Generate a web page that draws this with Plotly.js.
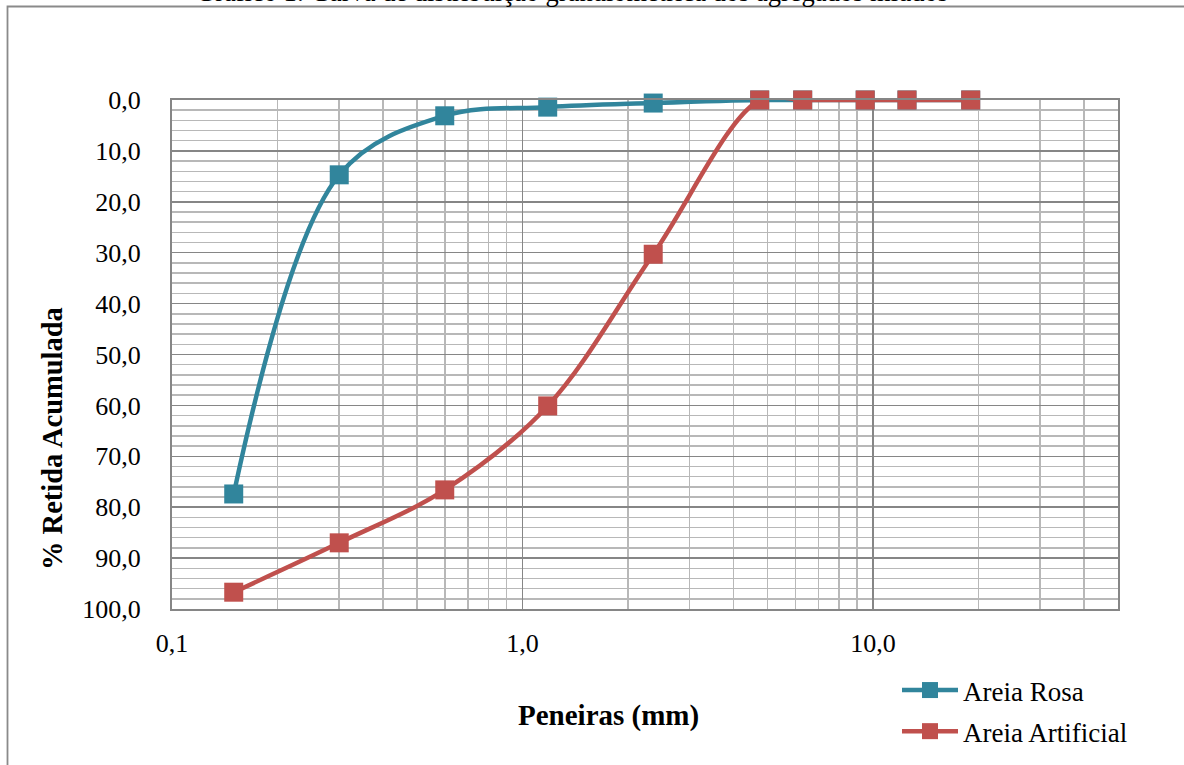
<!DOCTYPE html>
<html>
<head>
<meta charset="utf-8">
<script src="https://cdn.plot.ly/plotly-3.0.1.min.js"></script>
<style>html,body{margin:0;padding:0;background:#fff;}#chart{width:1184px;height:765px;}</style>
</head>
<body>
<div id="chart"></div>
<script>
var sieves = [0.15, 0.3, 0.6, 1.18, 2.36, 4.75, 6.3, 9.5, 12.5, 19];
var areiaRosa = [77.4, 14.7, 3.1, 1.4, 0.6, 0.0, 0.0, 0.0, 0.0, 0.0];
var areiaArtificial = [96.7, 87.0, 76.6, 60.1, 30.3, 0.0, 0.0, 0.0, 0.0, 0.0];
var seriesNames = ["Areia Rosa", "Areia Artificial"];
var xTickVals = [0.1, 1, 10];
var xTickText = ["0,1", "1,0", "10,0"];
var xMinorVals = [0.2,0.3,0.4,0.5,0.6,0.7,0.8,0.9,2,3,4,5,6,7,8,9,20,30,40,50];
var yTickVals = [0,10,20,30,40,50,60,70,80,90,100];
var yTickText = ["0,0","10,0","20,0","30,0","40,0","50,0","60,0","70,0","80,0","90,0","100,0"];
var chartTitle = "Gráfico 1: Curva de distribuição granulométrica dos agregados miúdos";
var xTitle = "Peneiras (mm)";
var yTitle = "% Retida Acumulada";

var FONT = "Liberation Serif, Times New Roman, serif";
var W = 1184, H = 765, L = 172, R = 66, T = 100, B = 156;
var pw = W - L - R, ph = H - T - B;
function px2x(p){ return (p - L) / pw; }
function px2y(p){ return (H - B - p) / ph; }

var traces = [
  {x: sieves, y: areiaRosa, name: seriesNames[0], legendgroup: 'a', type: 'scatter', mode: 'lines+markers',
   line: {color: '#31859C', width: 4.5, shape: 'spline', smoothing: 1},
   marker: {symbol: 'square', size: 19, color: '#31859C'}, cliponaxis: false},
  {x: sieves, y: areiaArtificial, name: seriesNames[1], legendgroup: 'b', type: 'scatter', mode: 'lines+markers',
   line: {color: '#C0504D', width: 4.5, shape: 'spline', smoothing: 1},
   marker: {symbol: 'square', size: 19, color: '#C0504D'}, cliponaxis: false}
];

var layout = {
  width: W, height: H,
  margin: {l: L, r: R, t: T, b: B, pad: 0, autoexpand: false},
  paper_bgcolor: '#ffffff', plot_bgcolor: '#ffffff',
  font: {family: FONT, size: 26, color: '#000'},
  showlegend: true,
  legend: {x: px2x(897), y: px2y(666), xanchor: 'left', yanchor: 'top',
           font: {family: FONT, size: 27, color: '#000'}, itemwidth: 56,
           bgcolor: 'rgba(0,0,0,0)', tracegroupgap: 3},
  xaxis: {
    type: 'log', range: [-1, Math.log10(50)],
    tickmode: 'array', tickvals: xTickVals, ticktext: xTickText,
    ticks: '', ticklabelstandoff: 10,
    tickfont: {family: FONT, size: 26, color: '#000'},
    showgrid: true, gridcolor: '#868686', gridwidth: 1.5,
    minor: {tickmode: 'array', tickvals: xMinorVals, showgrid: true, gridcolor: '#b8b8b8', gridwidth: 1.5, ticks: ''},
    showline: true, linecolor: '#868686', linewidth: 2, mirror: true,
    zeroline: false
  },
  yaxis: {
    range: [100, 0], autorange: false,
    tickmode: 'array', tickvals: yTickVals, ticktext: yTickText,
    ticks: '', ticklabelstandoff: 24,
    tickfont: {family: FONT, size: 26, color: '#000'},
    showgrid: true, gridcolor: '#868686', gridwidth: 1.5,
    minor: {dtick: 2, showgrid: true, gridcolor: '#b8b8b8', gridwidth: 1.5, ticks: ''},
    showline: true, linecolor: '#868686', linewidth: 2, mirror: true,
    zeroline: false
  },
  shapes: [
    {type: 'rect', xref: 'paper', yref: 'paper',
     x0: px2x(7.5), x1: px2x(1200), y0: px2y(790), y1: px2y(6.5),
     line: {color: '#8a8a8a', width: 1.8}, fillcolor: 'rgba(0,0,0,0)', layer: 'below'}
  ],
  annotations: [
    {text: chartTitle, xref: 'paper', yref: 'paper', x: px2x(572), y: px2y(-8),
     xanchor: 'center', yanchor: 'middle', showarrow: false,
     font: {family: FONT, size: 26.5, color: '#000'}},
    {text: '<b>' + xTitle + '</b>', xref: 'paper', yref: 'paper', x: px2x(608), y: px2y(715),
     xanchor: 'center', yanchor: 'middle', showarrow: false,
     font: {family: FONT, size: 29, color: '#000'}},
    {text: '<b>' + yTitle + '</b>', xref: 'paper', yref: 'paper', x: px2x(52), y: px2y(439),
     xanchor: 'center', yanchor: 'middle', showarrow: false, textangle: -90,
     font: {family: FONT, size: 28.5, color: '#000'}}
  ]
};

Plotly.newPlot('chart', traces, layout, {displayModeBar: false, staticPlot: true});
</script>
</body>
</html>
